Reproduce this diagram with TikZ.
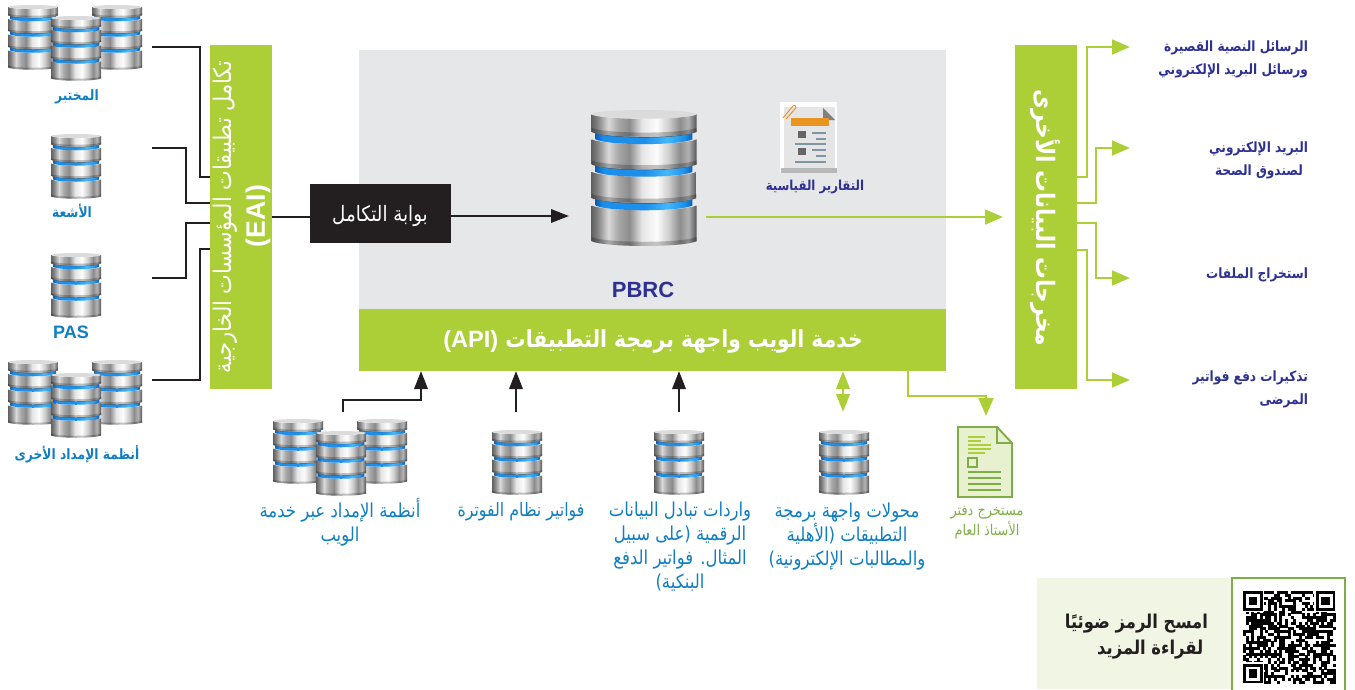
\documentclass[tikz,border=0pt]{standalone}
\usepackage{fontspec}
\usetikzlibrary{arrows.meta,calc}
\setmainfont{Liberation Sans}
\TeXXeTstate=1
\newfontfamily\arf[Script=Arabic,FakeStretch=0.86]{DejaVu Sans}
\newcommand{\AR}[1]{{\arf\beginR #1\endR}}
\definecolor{lime}{HTML}{ACCF37}
\definecolor{ink}{HTML}{231F20}
\definecolor{panelgrey}{HTML}{E6E7E8}
\definecolor{navy}{HTML}{2E3192}
\definecolor{skyb}{HTML}{0F7EC2}
\definecolor{leaf}{HTML}{7FAE47}
\definecolor{paleg}{HTML}{F1F5E3}
\definecolor{docfill}{HTML}{E8F1CF}
\definecolor{clipor}{HTML}{E8951F}
\definecolor{bandA}{HTML}{0B5FB5}
\definecolor{bandB}{HTML}{1C8FEA}
\definecolor{bandC}{HTML}{45B8FA}
\pgfdeclarehorizontalshading{chrome}{100bp}{color(0bp)=(black!60);color(25bp)=(black!62);color(28bp)=(black!48);color(33bp)=(black!15);color(38bp)=(black!35);color(43bp)=(black!45);color(49bp)=(black!10);color(56bp)=(black!1);color(62bp)=(black!20);color(67bp)=(black!45);color(71bp)=(black!30);color(75bp)=(black!66);color(100bp)=(black!66)}
\pgfdeclarehorizontalshading{blueband}{100bp}{color(0bp)=(bandA);color(25bp)=(bandA);color(29bp)=(bandB);color(50bp)=(bandB);color(62bp)=(bandC);color(71bp)=(bandB);color(75bp)=(bandA);color(100bp)=(bandA)}
% a disc between two bowed edges: top edge #1, bottom edge #2
\newcommand{\dbdisc}[2]{%
  \shade[shading=chrome] (-50,#1) .. controls (-36,#1+6) and (36,#1+6) .. (50,#1) -- (50,#2) .. controls (36,#2+6) and (-36,#2+6) .. (-50,#2) -- cycle;
  \fill[black,opacity=.22] (-50,#2-4) .. controls (-36,#2+2) and (36,#2+2) .. (50,#2-4) -- (50,#2) .. controls (36,#2+6) and (-36,#2+6) .. (-50,#2) -- cycle;}
% the blue ring under the disc whose bottom edge is at #1
\newcommand{\dbband}[1]{%
  \shade[shading=blueband] (-46,#1) .. controls (-34,#1+6) and (34,#1+6) .. (46,#1) -- (46,#1+7) .. controls (34,#1+13) and (-34,#1+13) .. (-46,#1+7) -- cycle;
  \draw[black!70,line width=.35pt] (-46,#1+.5) .. controls (-34,#1+6.5) and (34,#1+6.5) .. (46,#1+.5);}
\tikzset{
  x=0.75pt,y=-0.75pt,
  dbicon/.pic={
    \dbdisc{91}{125}\dbband{84}
    \dbdisc{59}{84}\dbband{52}
    \dbdisc{28}{52}\dbband{21}
    \dbdisc{4}{21}
    \fill[black!14] (0,4) ellipse [x radius=50,y radius=4];
  },
  bar/.style={fill=lime,draw=none,inner sep=0pt,outer sep=0pt,anchor=north west},
  wire/.style={draw=ink,line width=1.8pt},
  blackarrow/.style={draw=ink,line width=1.8pt,-{Triangle[length=13.5pt,width=10pt]}},
  limearrow/.style={draw=lime,line width=2.1pt,-{Triangle[length=13.5pt,width=11pt]}},
  lab/.style={inner sep=0pt,outer sep=0pt,align=center},
  outlab/.style={lab,align=right,anchor=north east,text=navy,font=\bfseries\fontsize{10.6}{17}\selectfont},
  toplab/.style={lab,text=skyb,font=\bfseries\fontsize{10.7}{12}\selectfont},
  botlab/.style={lab,anchor=north,text=skyb,font=\fontsize{14.4}{18}\selectfont},
  whitebar/.style={lab,text=white},
  qrmod/.style={fill=black},
}
\begin{document}
\begin{tikzpicture}
\useasboundingbox (0,0) rectangle (1355,689);
% panel
\node[bar,fill=panelgrey,minimum width=587*.75pt,minimum height=259*.75pt] (panel) at (359,50) {};
\node[bar,minimum width=587*.75pt,minimum height=62*.75pt] (api) at (359,309) {};
\node[whitebar,font=\bfseries\fontsize{17.7}{20}\selectfont] (apit) at (653,341) {\AR{خدمة الويب واجهة برمجة التطبيقات \beginL{\rmfamily\bfseries (API)}\endL}};
% bars
\node[bar,minimum width=62*.75pt,minimum height=344*.75pt] (eai) at (210,45) {};
\node[bar,minimum width=62*.75pt,minimum height=344*.75pt] (outs) at (1015,45) {};
\node[whitebar,rotate=90,font=\fontsize{18.2}{20}\selectfont] (eait) at (225,217) {\AR{تكامل تطبيقات المؤسسات الخارجية}};
\node[whitebar,rotate=90,font=\bfseries\fontsize{20}{22}\selectfont] (eaib) at (258,216) {(EAI)};
\node[whitebar,rotate=-90,font=\bfseries\fontsize{19}{22}\selectfont] (outt) at (1045,218) {\AR{مخرجات البيانات الأخرى}};
% gate
\node[bar,fill=ink,minimum width=141*.75pt,minimum height=59*.75pt] (gate) at (310,184) {};
\node[whitebar,font=\fontsize{15.9}{18}\selectfont] (gatet) at (380,216) {\AR{بوابة التكامل}};
% databases
\pic[scale=.5] at (33,5) {dbicon};
\pic[scale=.5] at (117,5) {dbicon};
\pic[scale=.5] at (76,16) {dbicon};
\pic[scale=.5] at (76,134) {dbicon};
\pic[scale=.5] at (76,253) {dbicon};
\pic[scale=.5] at (33,360) {dbicon};
\pic[scale=.5] at (117,360) {dbicon};
\pic[scale=.5] at (76,373) {dbicon};
\pic[scale=.5] at (298,419) {dbicon};
\pic[scale=.5] at (382,419) {dbicon};
\pic[scale=.5] at (341,431) {dbicon};
\pic[scale=.5] at (517,430) {dbicon};
\pic[scale=.5] at (679,430) {dbicon};
\pic[scale=.5] at (844,430) {dbicon};
\pic[scale=1.05] at (644,110) {dbicon};
% left labels
\node[toplab] (l1) at (77,97) {\AR{المختبر}};
\node[toplab] (l2) at (72,211) {\AR{الأشعة}};
\node[toplab,font=\bfseries\fontsize{13.5}{15}\selectfont] (l3) at (71,332) {PAS};
\node[toplab] (l4) at (77,454) {\AR{أنظمة الإمداد الأخرى}};
% left connector ends
\coordinate (s1) at (152,47);
\coordinate (s2) at (152,148);
\coordinate (s3) at (152,278);
\coordinate (s4) at (152,380);
\coordinate (i1) at (210,177);
\coordinate (i2) at (210,203);
\coordinate (i3) at (210,223);
\coordinate (i4) at (210,249);
\draw[wire] (s1) -- ++(48,0) |- (i1);
\draw[wire] (s2) -- ++(34,0) |- (i2);
\draw[wire] (s3) -- ++(34,0) |- (i3);
\draw[wire] (s4) -- ++(48,0) |- (i4);
\draw[wire] (eai.east |- 0,217) -- (gate.west |- 0,217);
\coordinate (dbin) at (569,216);
\draw[blackarrow] (gate.east |- dbin) -- (dbin);
\coordinate (pbout) at (706,217);
\coordinate (pbtip) at (1003,217);
\draw[limearrow] (pbout) -- (pbtip);
% centre labels
\node[lab,text=navy,font=\bfseries\fontsize{16.5}{18}\selectfont] (pbrc) at (643,290) {PBRC};
\node[lab,text=navy,font=\bfseries\fontsize{10.25}{12}\selectfont] (rept) at (815,187) {\AR{التقارير القياسية}};
% report icon
\fill[white] (780,102) rectangle (837,173);
\fill[black!10] (784,107) rectangle (835,168);
\fill[black!28] (781,168) rectangle (837,173);
\fill[black!50] (823,108) -- (835,120) -- (823,120) -- cycle;
\fill[clipor] (791,118) rectangle (829,126);
\draw[clipor,line width=.7pt] (783,118) -- (793,106) .. controls (795,104) and (797,107) .. (795,109) -- (786,119);
\fill[black!60] (798,131) rectangle (806,138);
\fill[black!60] (798,148) rectangle (806,155);
\foreach \a/\b/\c in {812/826/132,816/826/138,795/826/143,812/826/149,816/826/155,795/826/161}
  \fill[black!20!cyan!30!gray] (\a,\c) rectangle (\b,\c+2);
% right arrows
\coordinate (o1) at (1077,177);
\coordinate (o2) at (1077,203);
\coordinate (o3) at (1077,223);
\coordinate (o4) at (1077,250);
\coordinate (t1) at (1130,47);
\coordinate (t2) at (1130,148);
\coordinate (t3) at (1130,278);
\coordinate (t4) at (1130,380);
\draw[limearrow] (o1) -- ++(10,0) |- (t1);
\draw[limearrow] (o2) -- ++(19,0) |- (t2);
\draw[limearrow] (o3) -- ++(19,0) |- (t3);
\draw[limearrow] (o4) -- ++(10,0) |- (t4);
% right labels
\node[outlab] (r1) at (1308,41) {\AR{الرسائل النصية القصيرة}\\\AR{ورسائل البريد الإلكتروني}};
\node[outlab] (r2) at (1308,142) {\AR{البريد الإلكتروني}\\\AR{لصندوق الصحة}\kern3.75pt};
\node[outlab] (r3) at (1308,268) {\AR{استخراج الملفات}};
\node[outlab] (r4) at (1308,371) {\AR{تذكيرات دفع فواتير}\\\AR{المرضى}};
% bottom arrows
\coordinate (b1) at (343,412);
\coordinate (b2) at (516,412);
\coordinate (b3) at (679,412);
\coordinate (a1) at (421,371);
\draw[blackarrow] (b1) -- ++(0,-12) -| (a1);
\draw[blackarrow] (b2) -- (b2 |- api.south);
\draw[blackarrow] (b3) -- (b3 |- api.south);
\coordinate (b4) at (843,412);
\draw[draw=lime,line width=2.1pt,{Triangle[length=13.5pt,width=10pt]}-{Triangle[length=13.5pt,width=10pt]}] (b4 |- api.south) -- (b4);
\coordinate (ledg) at (986,416);
\draw[limearrow] (908,371) |- (986,396) -- (ledg);
% ledger document icon
\filldraw[fill=docfill,draw=leaf,line width=1.4pt] (958,427) -- (997,427) -- (1012,443) -- (1012,497) -- (958,497) -- cycle;
\draw[leaf,line width=1pt] (997,427) -- (997,443) -- (1012,443);
\foreach \yy/\xx in {437/985,441/981,445/991,449/991,453/985}
  \draw[lime,line width=.8pt] (968,\yy) -- (\xx,\yy);
\draw[leaf,line width=1pt] (968,458) rectangle (977,467);
\foreach \yy in {472,478,484,490}
  \draw[leaf,line width=1pt] (968,\yy) -- (1001,\yy);
% bottom labels
\node[botlab] (n1) at (340,498) {\AR{أنظمة الإمداد عبر خدمة}\\\AR{الويب}};
\node[botlab,font=\fontsize{13.8}{18}\selectfont] (n2) at (521,503) {\AR{فواتير نظام الفوترة}};
\node[botlab] (n3) at (680,502) {\AR{واردات تبادل البيانات}\\\AR{الرقمية (على سبيل}\\\AR{المثال. فواتير الدفع}\\\AR{البنكية)}};
\node[botlab] (n4) at (847,503) {\AR{محولات واجهة برمجة}\\\AR{التطبيقات (الأهلية}\\\AR{والمطالبات الإلكترونية)}};
\node[lab,anchor=north,text=leaf,font=\fontsize{11.2}{15}\selectfont] (n5) at (987,506) {\AR{مستخرج دفتر}\\\AR{الأستاذ العام}};
% QR panel
\node[bar,fill=paleg,minimum width=195*.75pt,minimum height=111*.75pt] (qrp) at (1037,578) {};
\node[lab,anchor=north east,align=right,text=ink,font=\bfseries\fontsize{14.3}{19.5}\selectfont] (qrt) at (1208,614) {\AR{امسح الرمز ضوئيًا}\\\AR{لقراءة المزيد}\kern3.5pt};
\filldraw[fill=white,draw=leaf,line width=1.5pt] (1232,578) rectangle (1345,695);
\begin{scope}[shift={(1243,591)},x=2.1pt,y=-2.1pt]
  \pgfmathsetseed{4242}
  \foreach \i in {0,...,32}{\foreach \j in {0,...,32}{
    \pgfmathparse{rnd}
    \ifdim\pgfmathresult pt>0.42pt \fill[qrmod] (\i,\j) rectangle (\i+1.05,\j+1.05);\fi
  }}
  \foreach \cx/\cy in {0/0,26/0,0/26}{
    \fill[white] (\cx-.5,\cy-.5) rectangle (\cx+7.5,\cy+7.5);
    \fill[black] (\cx,\cy) rectangle (\cx+7,\cy+7);
    \fill[white] (\cx+1,\cy+1) rectangle (\cx+6,\cy+6);
    \fill[black] (\cx+2,\cy+2) rectangle (\cx+5,\cy+5);
  }
\end{scope}
\end{tikzpicture}
\end{document}
